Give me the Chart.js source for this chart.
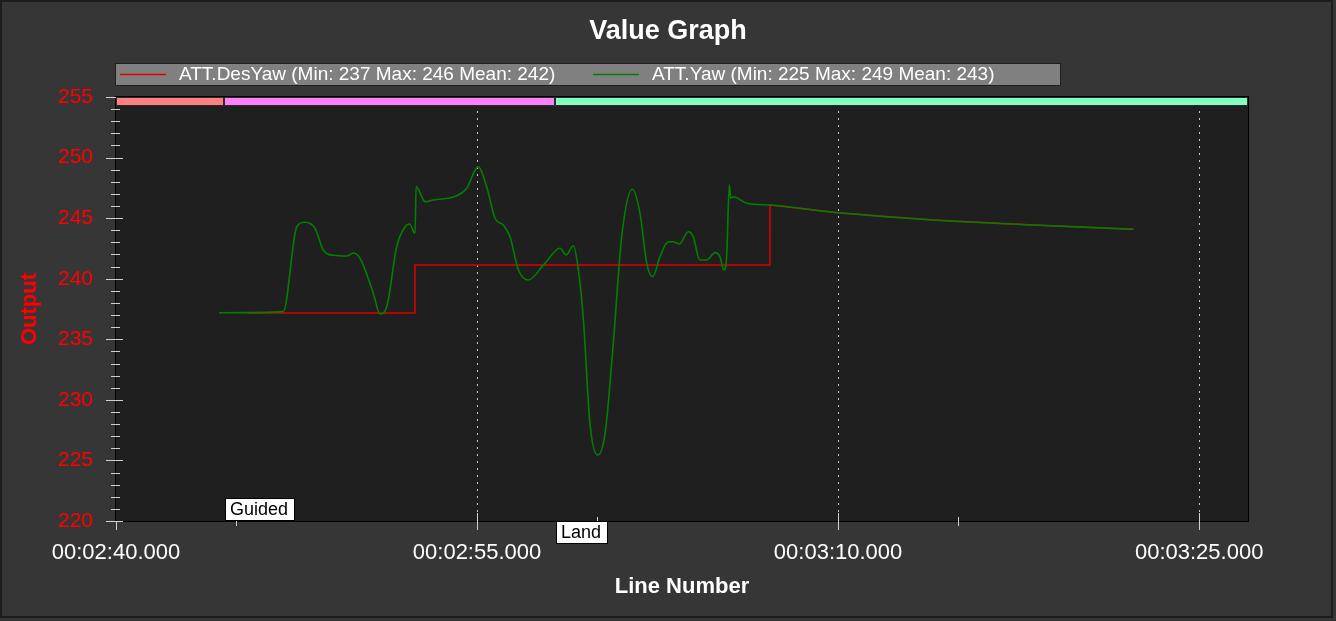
<!DOCTYPE html>
<html><head><meta charset="utf-8">
<script src="https://cdn.jsdelivr.net/npm/chart.js@4.4.1/dist/chart.umd.min.js"></script>
<style>html,body{margin:0;padding:0;background:#363636;overflow:hidden}</style>
</head><body>
<canvas id="c" width="1336" height="621"></canvas>
<script>
// ---- data (time in seconds, value in degrees) ----
const yawTime = [164.29,166.95,167.51,167.85,168.27,168.61,169.03,169.59,169.86,170.14,170.69,170.97,171.25,171.66,172.01,172.19,172.42,172.47,172.84,173.18,174.16,174.57,175.05,175.40,175.75,176.09,176.37,176.72,177.13,177.79,178.45,178.70,179.00,179.21,179.42,179.69,180.01,180.32,180.66,181.01,181.45,181.77,182.05,182.30,182.60,182.95,183.15,183.40,183.78,183.98,184.26,184.54,184.89,185.09,185.26,185.37,185.48,185.54,185.65,186.21,187.17,190.01,193.96,198.11,202.27];
const yawValue = [237.19,237.28,244.29,244.66,244.16,242.37,241.93,241.87,242.12,241.68,238.80,237.09,237.69,242.64,244.29,244.52,243.75,247.60,246.36,246.50,246.85,247.46,249.25,247.60,244.99,244.43,243.47,240.72,239.89,241.20,242.51,241.96,242.72,240.72,236.59,228.06,225.45,227.24,234.67,243.47,247.38,245.40,241.27,240.17,241.82,243.05,243.05,242.87,243.88,243.47,241.54,241.54,242.15,241.82,240.72,241.82,247.74,246.64,246.77,246.23,246.08,245.45,244.85,244.43,244.08];
const desYawTime = [165.44,172.42,172.42,187.17,187.17,190.01,193.96,198.11,202.27];
const desYawValue = [237.17,237.17,241.13,241.13,246.08,245.45,244.85,244.43,244.08];

const xMajorTicks = [160,175,190,205];
const xMinorTicks = [165,180,195];
const yMin = 220, yMax = 255, yMajorStep = 5, yMinorStep = 1;
const xMin = 160, xMax = 207.03;

const modeStarts = [160,164.5,178.25];
const modeNames = ['','Guided','Land'];
const modeColors = ['#ff8080','#ff80ff','#80ffbe'];

const seriesNames = ['ATT.DesYaw (Min: 237 Max: 246 Mean: 242)','ATT.Yaw (Min: 225 Max: 249 Mean: 243)'];
const seriesColors = ['#e00000','#008000'];
const chartTitle = 'Value Graph';
const xTitle = 'Line Number';
const yTitle = 'Output';

const FONT = "'Liberation Sans', Arial, sans-serif";

function fmtTime(s){
  const m = Math.floor(s/60), sec = Math.round(s - m*60);
  return '00:' + String(m).padStart(2,'0') + ':' + String(sec).padStart(2,'0') + '.000';
}
const pts = (t,v)=>t.map((x,i)=>({x:x,y:v[i]}));

const deco = {
  id:'deco',
  beforeDraw(chart){
    const ctx = chart.ctx, a = chart.chartArea;
    ctx.save();
    ctx.fillStyle = '#363636'; ctx.fillRect(0,0,chart.width,chart.height);
    ctx.strokeStyle = '#1c1c1c'; ctx.lineWidth = 2;
    ctx.strokeRect(1,1,1331,616);
    // title
    ctx.fillStyle = '#ffffff'; ctx.font = 'bold 27px ' + FONT;
    ctx.textAlign = 'center'; ctx.textBaseline = 'middle';
    ctx.fillText(chartTitle, 668, 32);
    // legend
    ctx.fillStyle = '#808080'; ctx.fillRect(115,63,945,22);
    ctx.strokeStyle = '#202020'; ctx.lineWidth = 1; ctx.strokeRect(115.5,63.5,945,22);
    const lx = [120,593];
    ctx.font = '19px ' + FONT; ctx.textAlign = 'left';
    for (let i=0;i<2;i++){
      ctx.strokeStyle = seriesColors[i]; ctx.lineWidth = 1.3;
      ctx.beginPath(); ctx.moveTo(lx[i],74.5); ctx.lineTo(lx[i]+46,74.5); ctx.stroke();
      ctx.fillStyle = '#ffffff'; ctx.fillText(seriesNames[i], lx[i]+59, 75);
    }
    // plot background
    ctx.fillStyle = '#1f1f1f'; ctx.fillRect(a.left,a.top,a.right-a.left,a.bottom-a.top);
    // axis titles
    ctx.fillStyle = '#ffffff'; ctx.font = 'bold 22px ' + FONT; ctx.textAlign='center';
    ctx.fillText(xTitle, (a.left+a.right)/2, 587);
    ctx.save(); ctx.translate(30,(a.top+a.bottom)/2); ctx.rotate(-Math.PI/2);
    ctx.fillStyle = '#ff0000'; ctx.fillText(yTitle,0,0); ctx.restore();
    ctx.restore();
  },
  beforeDatasetsDraw(chart){
    const ctx = chart.ctx, a = chart.chartArea, xs = chart.scales.x;
    ctx.save();
    ctx.strokeStyle = '#c8c8c8'; ctx.lineWidth = 1; ctx.setLineDash([2,5]);
    xMajorTicks.forEach(t=>{
      if (t===xMin) return;
      const px = Math.round(xs.getPixelForValue(t))+0.5;
      ctx.beginPath(); ctx.moveTo(px,a.top); ctx.lineTo(px,a.bottom); ctx.stroke();
    });
    ctx.restore();
  },
  afterDatasetsDraw(chart){
    const ctx = chart.ctx, a = chart.chartArea, xs = chart.scales.x, ys = chart.scales.y;
    ctx.save();
    // mode bars
    for (let i=0;i<modeStarts.length;i++){
      const x0 = xs.getPixelForValue(modeStarts[i]);
      const x1 = i+1<modeStarts.length ? xs.getPixelForValue(modeStarts[i+1]) : a.right;
      ctx.fillStyle = modeColors[i];
      ctx.fillRect(x0, a.top, x1-x0, 8);
      ctx.strokeStyle = '#2a2a2a'; ctx.lineWidth = 1;
      ctx.strokeRect(Math.round(x0)+0.5, a.top+0.5, Math.round(x1-x0)-1, 8);
    }
    // plot border
    ctx.strokeStyle = '#000000'; ctx.lineWidth = 1;
    ctx.strokeRect(a.left-0.5, a.top-0.5, a.right-a.left+1, a.bottom-a.top+1);
    // y ticks
    ctx.strokeStyle = '#d0d0d0';
    for (let v=yMin; v<=yMax; v+=yMinorStep){
      const py = Math.round(ys.getPixelForValue(v))+0.5;
      ctx.beginPath();
      if (v % yMajorStep === 0){ ctx.moveTo(a.left-10,py); ctx.lineTo(v===yMax?a.left:a.left+7,py); }
      else { ctx.moveTo(a.left-5,py); ctx.lineTo(a.left+4,py); }
      ctx.stroke();
    }
    // x ticks
    xMajorTicks.forEach(t=>{
      const px = Math.round(xs.getPixelForValue(t))+0.5;
      ctx.beginPath(); ctx.moveTo(px, t===xMin?a.bottom:a.bottom-8); ctx.lineTo(px,a.bottom+9); ctx.stroke();
    });
    xMinorTicks.forEach(t=>{
      const px = Math.round(xs.getPixelForValue(t))+0.5;
      ctx.beginPath(); ctx.moveTo(px,a.bottom-4); ctx.lineTo(px,a.bottom+5); ctx.stroke();
    });
    // mode annotations
    ctx.font = '18px ' + FONT; ctx.textBaseline='middle'; ctx.textAlign='left';
    let k = 0;
    for (let i=0;i<modeStarts.length;i++){
      if (!modeNames[i]) continue;
      const x0 = Math.round(xs.getPixelForValue(modeStarts[i]))+1;
      const w = Math.round(ctx.measureText(modeNames[i]).width)+12;
      const y0 = (k%2===0) ? a.bottom-23 : a.bottom;
      ctx.fillStyle = '#ffffff'; ctx.fillRect(x0,y0,w,23);
      ctx.strokeStyle = '#000000'; ctx.strokeRect(x0+0.5,y0+0.5,w-1,22);
      ctx.fillStyle = '#000000'; ctx.fillText(modeNames[i], x0+5, y0+12);
      k++;
    }
    ctx.restore();
  }
};

new Chart(document.getElementById('c'), {
  type:'line',
  data:{ datasets:[
    { label:seriesNames[1], data:pts(yawTime,yawValue), borderColor:seriesColors[1], borderWidth:1.6, pointRadius:0, cubicInterpolationMode:'monotone', order:0 },
    { label:seriesNames[0], data:pts(desYawTime,desYawValue), borderColor:seriesColors[0], borderWidth:1.5, pointRadius:0, tension:0, order:1 }
  ]},
  options:{
    responsive:false, animation:false, devicePixelRatio:1,
    layout:{ padding:{ top:97, right:88, left:0, bottom:0 } },
    plugins:{ legend:{display:false}, title:{display:false}, tooltip:{enabled:false} },
    scales:{
      x:{ type:'linear', min:xMin, max:xMax,
        afterBuildTicks:(s)=>{ s.ticks = xMajorTicks.map(v=>({value:v})); },
        afterFit:(s)=>{ s.height = 100; },
        grid:{display:false, drawTicks:false}, border:{display:false},
        ticks:{ autoSkip:false, maxRotation:0, padding:19, color:'#ffffff', font:{family:FONT, size:22},
          callback:(v)=>fmtTime(v) } },
      y:{ min:yMin, max:yMax,
        afterBuildTicks:(s)=>{ const t=[]; for(let v=yMin; v<=yMax; v+=yMajorStep) t.push({value:v}); s.ticks=t; },
        afterFit:(s)=>{ s.width = 116; },
        grid:{display:false, drawTicks:false}, border:{display:false},
        ticks:{ padding:23, color:'#ff0000', font:{family:FONT, size:21} } }
    }
  },
  plugins:[deco]
});
</script>
</body></html>
